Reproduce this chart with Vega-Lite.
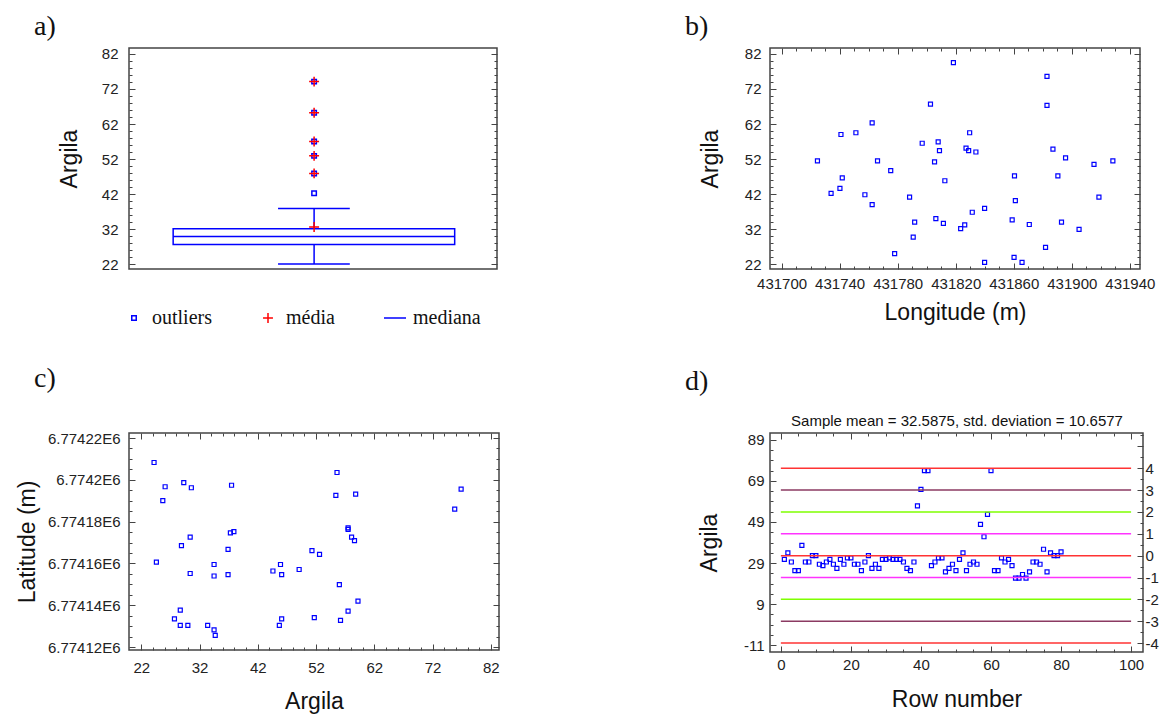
{
  "$schema": "https://vega.github.io/schema/vega-lite/v6.json",
  "background": "white",
  "padding": {"left": 15, "top": 12, "right": 5, "bottom": 3},
  "config": {
    "view": {"stroke": "#444444", "strokeWidth": 1.5},
    "font": "Liberation Sans",
    "axis": {
      "labelFont": "Liberation Sans", "labelFontSize": 15, "labelColor": "#222222",
      "titleFont": "Liberation Sans", "titleFontSize": 23, "titleFontWeight": "normal", "titleColor": "#111111",
      "domain": false, "grid": false, "tickColor": "#444444", "tickWidth": 1,
      "labelOverlap": false, "labelFlush": false, "labelPadding": 8
    },
    "title": {"font": "Liberation Serif", "fontSize": 28, "fontWeight": "normal", "anchor": "start", "frame": "group", "color": "#111111"}
  },
  "datasets": {
    "resumo": [{"q1": 27.6, "mediana": 29.9, "q3": 32.1, "min": 22.0, "max": 37.9}],
    "pontosA": [
      {"valor": 42.2, "tipo": "outliers", "extremo": false},
      {"valor": 47.9, "tipo": "outliers", "extremo": true},
      {"valor": 52.9, "tipo": "outliers", "extremo": true},
      {"valor": 57.0, "tipo": "outliers", "extremo": true},
      {"valor": 65.2, "tipo": "outliers", "extremo": true},
      {"valor": 74.1, "tipo": "outliers", "extremo": true},
      {"valor": 32.5875, "tipo": "média", "extremo": false}
    ],
    "longitude": [
      {"lon": 431724.7, "argila": 51.5}, {"lon": 431734.1, "argila": 42.2}, {"lon": 431740.2, "argila": 43.6},
      {"lon": 431740.9, "argila": 59.0}, {"lon": 431741.8, "argila": 46.6}, {"lon": 431751.2, "argila": 59.5},
      {"lon": 431757.4, "argila": 41.8}, {"lon": 431762.4, "argila": 62.3}, {"lon": 431762.4, "argila": 39.0},
      {"lon": 431766.1, "argila": 51.5}, {"lon": 431775.2, "argila": 48.7}, {"lon": 431777.9, "argila": 25.0},
      {"lon": 431788.2, "argila": 41.1}, {"lon": 431790.7, "argila": 29.7}, {"lon": 431791.7, "argila": 34.0},
      {"lon": 431796.9, "argila": 56.5}, {"lon": 431802.6, "argila": 67.7}, {"lon": 431805.4, "argila": 51.2},
      {"lon": 431806.3, "argila": 35.0}, {"lon": 431807.9, "argila": 56.9}, {"lon": 431808.8, "argila": 54.4},
      {"lon": 431811.5, "argila": 33.6}, {"lon": 431812.5, "argila": 45.8}, {"lon": 431818.4, "argila": 79.5},
      {"lon": 431823.4, "argila": 32.1}, {"lon": 431826.2, "argila": 33.2}, {"lon": 431827.1, "argila": 55.1},
      {"lon": 431828.9, "argila": 54.4}, {"lon": 431829.6, "argila": 59.5}, {"lon": 431831.4, "argila": 36.8},
      {"lon": 431833.9, "argila": 54.0}, {"lon": 431839.9, "argila": 37.9}, {"lon": 431839.9, "argila": 22.5},
      {"lon": 431858.9, "argila": 34.6}, {"lon": 431860.2, "argila": 23.9}, {"lon": 431860.5, "argila": 47.2},
      {"lon": 431861.1, "argila": 40.1}, {"lon": 431865.7, "argila": 22.5}, {"lon": 431870.7, "argila": 33.3},
      {"lon": 431881.9, "argila": 26.8}, {"lon": 431882.9, "argila": 75.6}, {"lon": 431882.9, "argila": 67.3},
      {"lon": 431887.0, "argila": 54.8}, {"lon": 431890.4, "argila": 47.2}, {"lon": 431892.9, "argila": 34.0},
      {"lon": 431895.7, "argila": 52.3}, {"lon": 431905.0, "argila": 31.9}, {"lon": 431915.3, "argila": 50.5},
      {"lon": 431918.7, "argila": 41.1}, {"lon": 431928.3, "argila": 51.5}
    ],
    "latitude": [
      {"argila": 24.2, "lat": 6774208.3}, {"argila": 24.6, "lat": 6774160.6}, {"argila": 25.7, "lat": 6774190.1},
      {"argila": 26.1, "lat": 6774196.7}, {"argila": 27.7, "lat": 6774133.5}, {"argila": 28.7, "lat": 6774137.7},
      {"argila": 28.7, "lat": 6774130.4}, {"argila": 28.9, "lat": 6774168.5}, {"argila": 29.3, "lat": 6774198.7},
      {"argila": 30.0, "lat": 6774130.4}, {"argila": 30.4, "lat": 6774172.6}, {"argila": 30.4, "lat": 6774155.2},
      {"argila": 30.6, "lat": 6774196.2}, {"argila": 33.4, "lat": 6774130.4}, {"argila": 34.5, "lat": 6774159.5},
      {"argila": 34.5, "lat": 6774154.0}, {"argila": 34.5, "lat": 6774128.2}, {"argila": 34.7, "lat": 6774125.6},
      {"argila": 36.9, "lat": 6774166.7}, {"argila": 36.9, "lat": 6774154.7}, {"argila": 37.3, "lat": 6774174.6},
      {"argila": 37.5, "lat": 6774197.4}, {"argila": 37.9, "lat": 6774175.2}, {"argila": 44.6, "lat": 6774156.4},
      {"argila": 45.7, "lat": 6774130.4}, {"argila": 45.9, "lat": 6774159.5}, {"argila": 46.1, "lat": 6774154.7},
      {"argila": 46.1, "lat": 6774133.5}, {"argila": 49.1, "lat": 6774157.1}, {"argila": 51.3, "lat": 6774166.1},
      {"argila": 51.7, "lat": 6774134.1}, {"argila": 52.6, "lat": 6774164.3}, {"argila": 55.4, "lat": 6774192.6},
      {"argila": 55.6, "lat": 6774203.5}, {"argila": 56.0, "lat": 6774149.9}, {"argila": 56.2, "lat": 6774132.8},
      {"argila": 57.5, "lat": 6774177.0}, {"argila": 57.5, "lat": 6774176.3}, {"argila": 57.5, "lat": 6774137.2},
      {"argila": 58.1, "lat": 6774172.6}, {"argila": 58.6, "lat": 6774170.9}, {"argila": 58.8, "lat": 6774193.2},
      {"argila": 59.2, "lat": 6774142.0}, {"argila": 75.8, "lat": 6774186.0}, {"argila": 76.9, "lat": 6774195.6}
    ],
    "linhas": [
      {"linha": 1, "argila": 30.8}, {"linha": 2, "argila": 33.9}, {"linha": 3, "argila": 29.5}, {"linha": 4, "argila": 25.3},
      {"linha": 5, "argila": 25.3}, {"linha": 6, "argila": 37.6}, {"linha": 7, "argila": 29.5}, {"linha": 8, "argila": 29.5},
      {"linha": 9, "argila": 32.6}, {"linha": 10, "argila": 32.6}, {"linha": 11, "argila": 28.4}, {"linha": 12, "argila": 27.7},
      {"linha": 13, "argila": 29.5}, {"linha": 14, "argila": 30.8}, {"linha": 15, "argila": 28.4}, {"linha": 16, "argila": 26.4},
      {"linha": 17, "argila": 30.8}, {"linha": 18, "argila": 28.4}, {"linha": 19, "argila": 31.5}, {"linha": 20, "argila": 31.5},
      {"linha": 21, "argila": 28.4}, {"linha": 22, "argila": 28.4}, {"linha": 23, "argila": 25.3}, {"linha": 24, "argila": 29.5},
      {"linha": 25, "argila": 32.6}, {"linha": 26, "argila": 26.4}, {"linha": 27, "argila": 28.4}, {"linha": 28, "argila": 26.4},
      {"linha": 29, "argila": 30.8}, {"linha": 30, "argila": 30.8}, {"linha": 31, "argila": 31.5}, {"linha": 32, "argila": 30.8},
      {"linha": 33, "argila": 30.8}, {"linha": 34, "argila": 30.8}, {"linha": 35, "argila": 29.5}, {"linha": 36, "argila": 26.4},
      {"linha": 37, "argila": 25.3}, {"linha": 38, "argila": 29.5}, {"linha": 39, "argila": 56.9}, {"linha": 40, "argila": 64.9},
      {"linha": 41, "argila": 74.1}, {"linha": 42, "argila": 74.1}, {"linha": 43, "argila": 27.7}, {"linha": 44, "argila": 29.5},
      {"linha": 45, "argila": 31.5}, {"linha": 46, "argila": 31.5}, {"linha": 47, "argila": 24.7}, {"linha": 48, "argila": 26.4},
      {"linha": 49, "argila": 28.4}, {"linha": 50, "argila": 25.3}, {"linha": 51, "argila": 30.8}, {"linha": 52, "argila": 33.9},
      {"linha": 53, "argila": 25.3}, {"linha": 54, "argila": 28.4}, {"linha": 55, "argila": 29.5}, {"linha": 56, "argila": 28.4},
      {"linha": 57, "argila": 47.8}, {"linha": 58, "argila": 41.8}, {"linha": 59, "argila": 52.7}, {"linha": 60, "argila": 74.1},
      {"linha": 61, "argila": 25.3}, {"linha": 62, "argila": 25.3}, {"linha": 63, "argila": 31.5}, {"linha": 64, "argila": 29.5},
      {"linha": 65, "argila": 30.8}, {"linha": 66, "argila": 27.7}, {"linha": 67, "argila": 21.6}, {"linha": 68, "argila": 21.6},
      {"linha": 69, "argila": 23.4}, {"linha": 70, "argila": 21.6}, {"linha": 71, "argila": 24.7}, {"linha": 72, "argila": 29.5},
      {"linha": 73, "argila": 29.5}, {"linha": 74, "argila": 28.4}, {"linha": 75, "argila": 35.7}, {"linha": 76, "argila": 24.7},
      {"linha": 77, "argila": 33.9}, {"linha": 78, "argila": 32.6}, {"linha": 79, "argila": 32.6}, {"linha": 80, "argila": 34.4}
    ],
    "zlinhas": [{"z": -4}, {"z": -3}, {"z": -2}, {"z": -1}, {"z": 0}, {"z": 1}, {"z": 2}, {"z": 3}, {"z": 4}]
  },
  "columns": 2,
  "spacing": {"row": 39, "column": 183},
  "concat": [
    {
      "width": 368, "height": 221,
      "title": {"text": "a)", "dx": -95, "offset": 6},
      "layer": [
        {
          "data": {"name": "resumo"},
          "mark": {"type": "rect", "fill": "white", "stroke": "#0000ff", "strokeWidth": 1.5},
          "encoding": {
            "x": {"datum": 0.12, "type": "quantitative", "scale": {"domain": [0, 1]}, "axis": null},
            "x2": {"datum": 0.885},
            "y": {"field": "q3", "type": "quantitative", "scale": {"domain": [20.6, 83.7], "nice": false, "zero": false},
              "axis": {"orient": "left", "title": "Argila", "titlePadding": 20, "labelPadding": 17,
                "values": [22,24,26,28,30,32,34,36,38,40,42,44,46,48,50,52,54,56,58,60,62,64,66,68,70,72,74,76,78,80,82],
                "labelExpr": "(datum.value - 22) % 10 === 0 ? '' + datum.value : ''",
                "tickSize": {"condition": {"test": "(datum.value - 22) % 10 === 0", "value": -6}, "value": -3}}},
            "y2": {"field": "q1"}
          }
        },
        {
          "data": {"name": "resumo"},
          "mark": {"type": "rule", "color": "#0000ff", "strokeWidth": 1.5},
          "encoding": {"x": {"datum": 0.12, "type": "quantitative", "axis": null}, "x2": {"datum": 0.885}, "y": {"field": "mediana", "type": "quantitative", "axis": null}}
        },
        {
          "data": {"name": "resumo"},
          "mark": {"type": "rule", "color": "#0000ff", "strokeWidth": 1.5},
          "encoding": {"x": {"datum": 0.503, "type": "quantitative", "axis": null}, "y": {"field": "q3", "type": "quantitative", "axis": null}, "y2": {"field": "max"}}
        },
        {
          "data": {"name": "resumo"},
          "mark": {"type": "rule", "color": "#0000ff", "strokeWidth": 1.5},
          "encoding": {"x": {"datum": 0.503, "type": "quantitative", "axis": null}, "y": {"field": "min", "type": "quantitative", "axis": null}, "y2": {"field": "q1"}}
        },
        {
          "data": {"name": "resumo"},
          "mark": {"type": "rule", "color": "#0000ff", "strokeWidth": 1.5},
          "encoding": {"x": {"datum": 0.405, "type": "quantitative", "axis": null}, "x2": {"datum": 0.6}, "y": {"field": "max", "type": "quantitative", "axis": null}}
        },
        {
          "data": {"name": "resumo"},
          "mark": {"type": "rule", "color": "#0000ff", "strokeWidth": 1.5},
          "encoding": {"x": {"datum": 0.405, "type": "quantitative", "axis": null}, "x2": {"datum": 0.6}, "y": {"field": "min", "type": "quantitative", "axis": null}}
        },
        {
          "data": {"name": "pontosA"},
          "mark": {"type": "point", "filled": false, "size": 256, "strokeWidth": 1.5, "opacity": 1},
          "encoding": {
            "x": {"datum": 0.503, "type": "quantitative", "axis": null},
            "y": {"field": "valor", "type": "quantitative", "axis": null},
            "color": {"field": "tipo", "type": "nominal",
              "scale": {"domain": ["outliers", "média", "mediana"], "range": ["#0000ff", "#ff0000", "#0000ff"]},
              "legend": {"orient": "none", "legendX": -5, "legendY": 260, "direction": "horizontal", "title": null,
                "labelFont": "Liberation Serif", "labelFontSize": 20, "labelColor": "#111111", "symbolSize": 256,
                "symbolStrokeWidth": 1.5, "columnPadding": 46, "labelOffset": 8}},
            "shape": {"field": "tipo", "type": "nominal",
              "scale": {"domain": ["outliers", "média", "mediana"],
                "range": ["M-0.28,-0.28H0.28V0.28H-0.28Z", "M-0.62,0H0.62M0,-0.62V0.62", "M-1.375,0H1.375"]},
              "legend": {"orient": "none", "legendX": -5, "legendY": 260, "direction": "horizontal", "title": null,
                "labelFont": "Liberation Serif", "labelFontSize": 20, "labelColor": "#111111", "symbolSize": 256,
                "symbolStrokeWidth": 1.5, "columnPadding": 46, "labelOffset": 8}}
          }
        },
        {
          "data": {"name": "pontosA"},
          "transform": [{"filter": "datum.extremo"}],
          "mark": {"type": "point", "filled": false, "shape": "M-0.62,0H0.62M0,-0.62V0.62", "size": 256, "color": "#ff0000", "strokeWidth": 1.5, "opacity": 1},
          "encoding": {"x": {"datum": 0.503, "type": "quantitative", "axis": null}, "y": {"field": "valor", "type": "quantitative", "axis": null}}
        },
        {
          "data": {"name": "resumo"},
          "mark": {"type": "point", "opacity": 0},
          "encoding": {
            "x": {"datum": 0.5, "type": "quantitative", "axis": null},
            "y": {"field": "q3", "type": "quantitative",
              "axis": {"orient": "right", "title": null, "labels": false,
                "values": [22,24,26,28,30,32,34,36,38,40,42,44,46,48,50,52,54,56,58,60,62,64,66,68,70,72,74,76,78,80,82],
                "tickSize": {"condition": {"test": "(datum.value - 22) % 10 === 0", "value": -6}, "value": -3}}}
          }
        }
      ],
      "resolve": {"axis": {"y": "independent"}}
    },
    {
      "width": 370, "height": 221,
      "title": {"text": "b)", "dx": -85, "offset": 6},
      "data": {"name": "longitude"},
      "layer": [
        {
          "mark": {"type": "point", "shape": "square", "size": 16, "filled": false, "color": "#0000ff", "strokeWidth": 1.2, "opacity": 1},
          "encoding": {
            "x": {"field": "lon", "type": "quantitative", "scale": {"domain": [431692, 431947], "nice": false, "zero": false},
              "axis": {"orient": "bottom", "title": "Longitude (m)", "titlePadding": 7, "labelPadding": 13,
                "values": [431700,431710,431720,431730,431740,431750,431760,431770,431780,431790,431800,431810,431820,431830,431840,431850,431860,431870,431880,431890,431900,431910,431920,431930,431940],
                "labelExpr": "(datum.value - 431700) % 40 === 0 ? '' + datum.value : ''",
                "tickSize": {"condition": {"test": "(datum.value - 431700) % 40 === 0", "value": -6}, "value": -3}}},
            "y": {"field": "argila", "type": "quantitative", "scale": {"domain": [20.6, 83.7], "nice": false, "zero": false},
              "axis": {"orient": "left", "title": "Argila", "titlePadding": 22, "labelPadding": 15,
                "values": [22,24,26,28,30,32,34,36,38,40,42,44,46,48,50,52,54,56,58,60,62,64,66,68,70,72,74,76,78,80,82],
                "labelExpr": "(datum.value - 22) % 10 === 0 ? '' + datum.value : ''",
                "tickSize": {"condition": {"test": "(datum.value - 22) % 10 === 0", "value": -6}, "value": -3}}}
          }
        },
        {
          "mark": {"type": "point", "opacity": 0},
          "encoding": {
            "x": {"field": "lon", "type": "quantitative",
              "axis": {"orient": "top", "title": null, "labels": false,
                "values": [431700,431710,431720,431730,431740,431750,431760,431770,431780,431790,431800,431810,431820,431830,431840,431850,431860,431870,431880,431890,431900,431910,431920,431930,431940],
                "tickSize": {"condition": {"test": "(datum.value - 431700) % 40 === 0", "value": -6}, "value": -3}}},
            "y": {"field": "argila", "type": "quantitative",
              "axis": {"orient": "right", "title": null, "labels": false,
                "values": [22,24,26,28,30,32,34,36,38,40,42,44,46,48,50,52,54,56,58,60,62,64,66,68,70,72,74,76,78,80,82],
                "tickSize": {"condition": {"test": "(datum.value - 22) % 10 === 0", "value": -6}, "value": -3}}}
          }
        }
      ],
      "resolve": {"axis": {"x": "independent", "y": "independent"}}
    },
    {
      "width": 370, "height": 217,
      "title": {"text": "c)", "dx": -95, "offset": 38},
      "data": {"name": "latitude"},
      "layer": [
        {
          "mark": {"type": "point", "shape": "square", "size": 16, "filled": false, "color": "#0000ff", "strokeWidth": 1.2, "opacity": 1},
          "encoding": {
            "x": {"field": "argila", "type": "quantitative", "scale": {"domain": [19.9, 83.4], "nice": false, "zero": false},
              "axis": {"orient": "bottom", "title": "Argila", "titlePadding": 12, "labelPadding": 16,
                "values": [22,24,26,28,30,32,34,36,38,40,42,44,46,48,50,52,54,56,58,60,62,64,66,68,70,72,74,76,78,80,82],
                "labelExpr": "(datum.value - 22) % 10 === 0 ? '' + datum.value : ''",
                "tickSize": {"condition": {"test": "(datum.value - 22) % 10 === 0", "value": -6}, "value": -3}}},
            "y": {"field": "lat", "type": "quantitative", "scale": {"domain": [6774118.6, 6774222.4], "nice": false, "zero": false},
              "axis": {"orient": "left", "title": "Latitude (m)", "titlePadding": 8, "labelPadding": 15,
                "values": [6774120,6774125,6774130,6774135,6774140,6774145,6774150,6774155,6774160,6774165,6774170,6774175,6774180,6774185,6774190,6774195,6774200,6774205,6774210,6774215,6774220],
                "labelExpr": "(datum.value - 6774120) % 20 === 0 ? format(datum.value / 1000000, '.5~f') + 'E6' : ''",
                "tickSize": {"condition": {"test": "(datum.value - 6774120) % 20 === 0", "value": -6}, "value": -3}}}
          }
        },
        {
          "mark": {"type": "point", "opacity": 0},
          "encoding": {
            "x": {"field": "argila", "type": "quantitative",
              "axis": {"orient": "top", "title": null, "labels": false,
                "values": [22,24,26,28,30,32,34,36,38,40,42,44,46,48,50,52,54,56,58,60,62,64,66,68,70,72,74,76,78,80,82],
                "tickSize": {"condition": {"test": "(datum.value - 22) % 10 === 0", "value": -6}, "value": -3}}},
            "y": {"field": "lat", "type": "quantitative",
              "axis": {"orient": "right", "title": null, "labels": false,
                "values": [6774120,6774125,6774130,6774135,6774140,6774145,6774150,6774155,6774160,6774165,6774170,6774175,6774180,6774185,6774190,6774195,6774200,6774205,6774210,6774215,6774220],
                "tickSize": {"condition": {"test": "(datum.value - 6774120) % 20 === 0", "value": -6}, "value": -3}}}
          }
        }
      ],
      "resolve": {"axis": {"x": "independent", "y": "independent"}}
    },
    {
      "width": 373, "height": 219,
      "title": {"text": "d)", "dx": -85, "offset": 18},
      "layer": [
        {
          "data": {"name": "linhas"},
          "mark": {"type": "point", "shape": "square", "size": 16, "filled": false, "color": "#0000ff", "strokeWidth": 1.2, "opacity": 1},
          "encoding": {
            "x": {"field": "linha", "type": "quantitative", "scale": {"domain": [-3.1, 103.4], "nice": false, "zero": false},
              "axis": {"orient": "bottom", "title": "Row number", "titlePadding": 13, "labelPadding": 11,
                "values": [0,5,10,15,20,25,30,35,40,45,50,55,60,65,70,75,80,85,90,95,100],
                "labelExpr": "datum.value % 20 === 0 ? '' + datum.value : ''",
                "tickSize": {"condition": {"test": "datum.value % 20 === 0", "value": -6}, "value": -3}}},
            "y": {"field": "argila", "type": "quantitative", "scale": {"domain": [-14.4, 92.4], "nice": false, "zero": false},
              "axis": {"orient": "left", "title": "Argila", "titlePadding": 22, "labelPadding": 12,
                "values": [-11,-6,-1,4,9,14,19,24,29,34,39,44,49,54,59,64,69,74,79,84,89],
                "labelExpr": "(datum.value + 11) % 20 === 0 ? '' + datum.value : ''",
                "tickSize": {"condition": {"test": "(datum.value + 11) % 20 === 0", "value": -6}, "value": -3}}}
          }
        },
        {
          "data": {"name": "zlinhas"},
          "mark": {"type": "rule", "strokeWidth": 1.5},
          "encoding": {
            "x": {"datum": 0, "type": "quantitative",
              "axis": {"orient": "top", "title": "Sample mean = 32.5875, std. deviation = 10.6577", "titleFontSize": 15, "titlePadding": 4, "labels": false,
                "values": [0,5,10,15,20,25,30,35,40,45,50,55,60,65,70,75,80,85,90,95,100],
                "tickSize": {"condition": {"test": "datum.value % 20 === 0", "value": -6}, "value": -3}}},
            "x2": {"datum": 100},
            "y": {"field": "z", "type": "quantitative", "scale": {"domain": [-4.4088, 5.6121], "nice": false, "zero": false},
              "axis": {"orient": "right", "title": null, "labelPadding": 8,
                "values": [-4,-3.5,-3,-2.5,-2,-1.5,-1,-0.5,0,0.5,1,1.5,2,2.5,3,3.5,4,4.5,5,5.5],
                "labelExpr": "datum.value % 1 === 0 && datum.value <= 4 ? '' + datum.value : ''",
                "tickSize": {"condition": {"test": "datum.value % 1 === 0", "value": -6}, "value": -3}}},
            "stroke": {"field": "z", "type": "ordinal", "legend": null,
              "scale": {"domain": [-4, -3, -2, -1, 0, 1, 2, 3, 4],
                "range": ["#ff3333", "#8b3a62", "#7fff00", "#ff33ff", "#ff3333", "#ff33ff", "#7fff00", "#8b3a62", "#ff3333"]}}
          }
        }
      ],
      "resolve": {"scale": {"y": "independent"}, "axis": {"x": "independent", "y": "independent"}}
    }
  ]
}
